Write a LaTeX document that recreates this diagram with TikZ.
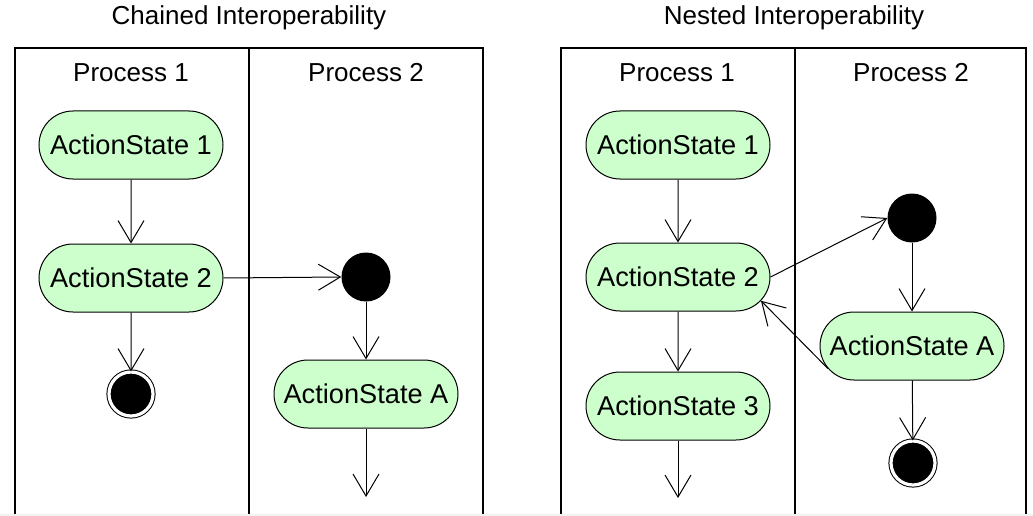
\documentclass[tikz,border=0pt]{standalone}
\usepackage{fontspec}
\setmainfont{Liberation Sans}
\usetikzlibrary{arrows.meta,shapes.misc}
\definecolor{actgreen}{RGB}{204,255,204}

\begin{document}
\begin{tikzpicture}[x=1pt,y=-1pt,
  txt/.style={font=\fontsize{26}{31}\selectfont, inner sep=0pt},
  action/.style={rounded rectangle, draw, line width=1pt, fill=actgreen,
    minimum width=184pt, minimum height=68pt, inner sep=0pt,
    font=\fontsize{27.2}{32}\selectfont},
  initial/.style={circle, fill=black, minimum size=49pt, inner sep=0pt},
  final/.style={circle, fill=black, draw, line width=1pt, double=white,
    double distance=3.2pt, minimum size=44pt, inner sep=0pt},
  lane/.style={line width=2.4pt},
  flow/.style={line width=1pt, -{Straight Barb[length=22pt,width=26pt]}}]

% canvas
\fill[white] (0,0) rectangle (1033,516);
\useasboundingbox (0,0) rectangle (1033,516);
\fill[gray!10] (0,514) rectangle (1033,516);

% ---------- chained interoperability ----------
\node[txt] (t1) at (249,18) {Chained Interoperability};
\draw[lane] (15,514) -- (15,48) -- (483,48) -- (483,514);
\draw[lane] (249,48) -- (249,514);
\node[txt] (p11) at (131,73) {Process 1};
\node[txt] (p12) at (366,73) {Process 2};

\node[action] (as1) at (131,145) {ActionState 1};
\node[action] (as2) at (131,278) {ActionState 2};
\node[final]  (fin) at (131,394) {};
\node[initial] (ini) at (366,277) {};
\node[action] (asA) at (366,394) {ActionState A};
\coordinate (endA) at (366,497);

\draw[flow] (as1) -- (as2);
\draw[flow] (as2) -- (fin);
\draw[flow] (as2.east) -- (ini.west);
\draw[flow] (ini) -- (asA);
\draw[flow] (asA) -- (endA);

% ---------- nested interoperability ----------
\node[txt] (t2) at (794,18) {Nested Interoperability};
\draw[lane] (561,514) -- (561,48) -- (1026,48) -- (1026,514);
\draw[lane] (795,48) -- (795,514);
\node[txt] (p21) at (677,73) {Process 1};
\node[txt] (p22) at (911,73) {Process 2};

\node[action] (n1) at (678,145) {ActionState 1};
\node[action] (n2) at (678,277) {ActionState 2};
\node[action] (n3) at (678,406) {ActionState 3};
\coordinate (end3) at (678,498);
\node[initial] (nini) at (912,218) {};
\node[action] (nA) at (912,346) {ActionState A};
\node[final] (nfin) at (913,463) {};

\draw[flow] (n1) -- (n2);
\draw[flow] (n2) -- (n3);
\draw[flow] (n3) -- (end3);
\draw[flow] (n2.east) -- (nini.west);
\draw[flow] (nini) -- (nA);
\draw[flow] (nA) -- (nfin);
\draw[flow] (nA.195) -- (n2.-16);
\end{tikzpicture}
\end{document}
